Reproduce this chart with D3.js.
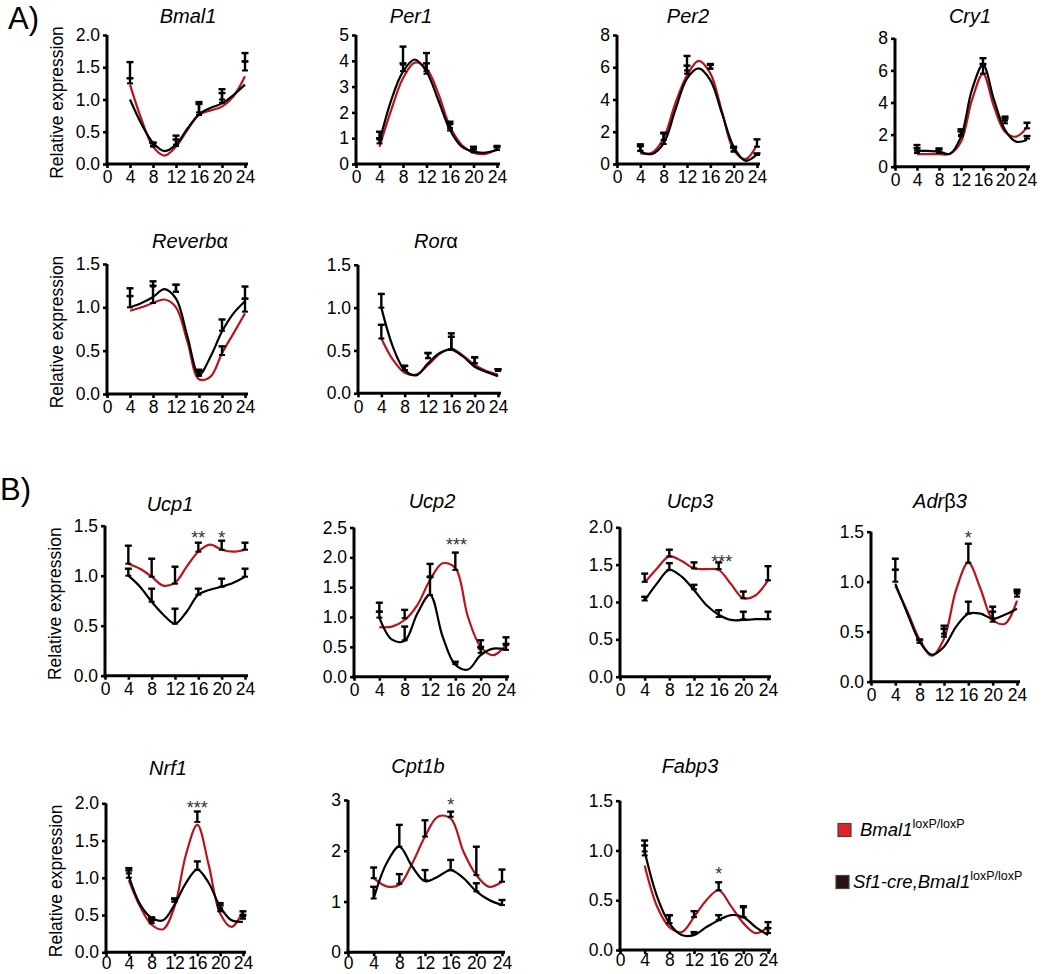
<!DOCTYPE html>
<html><head><meta charset="utf-8">
<script src="https://cdn.jsdelivr.net/npm/d3@7"></script>
<style>
body{margin:0;background:#fff}
svg{display:block}
text{font-family:"Liberation Sans",Arial,Helvetica,sans-serif;fill:#000}
</style>
</head><body>
<svg id="chart" width="1050" height="974"></svg>
<script>
// ---------------- DATA ----------------
const genes = ["Bmal1","Per1","Per2","Cry1","Reverbα","Rorα","Ucp1","Ucp2","Ucp3","Adrβ3","Nrf1","Cpt1b","Fabp3"];
const sampleHours = [4, 8, 12, 16, 20, 24];
const fitHours = [4, 6, 8, 10, 12, 14, 16, 18, 20, 22, 24];
const xTicks = [0, 4, 8, 12, 16, 20, 24];
const yMax  = [2, 5, 8, 8, 1.5, 1.5, 1.5, 2.5, 2, 1.5, 2, 3, 1.5];
const yStep = [0.5, 1, 2, 2, 0.5, 0.5, 0.5, 0.5, 0.5, 0.5, 0.5, 1, 0.5];

// fitted curves (Bmal1 loxP/loxP = red)
const fitFlox = [
  [1.23, 0.69, 0.27, 0.13, 0.27, 0.53, 0.76, 0.83, 0.89, 1.05, 1.36],
  [0.67, 2.10, 3.32, 3.93, 3.70, 2.74, 1.45, 0.74, 0.44, 0.39, 0.57],
  [0.66, 0.70, 1.60, 3.76, 5.50, 6.40, 5.62, 3.24, 0.87, 0.30, 1.18],
  [0.78, 0.78, 0.78, 0.80, 1.56, 4.16, 5.78, 3.74, 2.18, 1.87, 2.45],
  [0.96, 1.00, 1.05, 1.09, 1.00, 0.60, 0.17, 0.20, 0.47, 0.70, 0.93],
  [0.64, 0.39, 0.24, 0.22, 0.33, 0.46, 0.52, 0.44, 0.33, 0.26, 0.22],
  [1.12, 1.07, 0.99, 0.90, 0.93, 1.09, 1.24, 1.31, 1.26, 1.24, 1.26],
  [0.83, 0.84, 0.95, 1.20, 1.62, 1.90, 1.82, 1.00, 0.50, 0.36, 0.53],
  [1.26, 1.45, 1.61, 1.55, 1.45, 1.44, 1.43, 1.24, 1.05, 1.09, 1.29],
  [0.96, 0.70, 0.42, 0.26, 0.43, 0.92, 1.19, 0.93, 0.62, 0.58, 0.81],
  [0.97, 0.61, 0.37, 0.31, 0.61, 1.31, 1.71, 1.17, 0.52, 0.34, 0.55],
  [1.46, 1.30, 1.33, 1.75, 2.28, 2.67, 2.64, 1.98, 1.52, 1.29, 1.39],
  [0.85, 0.44, 0.23, 0.18, 0.33, 0.50, 0.60, 0.44, 0.27, 0.17, 0.23]
];
// fitted curves (Sf1-cre,Bmal1 loxP/loxP = black)
const fitCre = [
  [1.00, 0.62, 0.33, 0.20, 0.30, 0.55, 0.77, 0.87, 0.94, 1.07, 1.23],
  [0.87, 2.48, 3.58, 4.05, 3.58, 2.48, 1.32, 0.67, 0.48, 0.44, 0.54],
  [0.76, 0.62, 1.28, 3.35, 5.30, 5.93, 5.20, 3.14, 1.07, 0.20, 0.60],
  [1.00, 0.98, 0.94, 0.80, 1.87, 4.80, 6.34, 4.16, 2.29, 1.56, 1.66],
  [1.00, 1.05, 1.12, 1.21, 1.10, 0.66, 0.22, 0.43, 0.72, 0.93, 1.07],
  [1.00, 0.54, 0.27, 0.21, 0.35, 0.47, 0.51, 0.43, 0.31, 0.25, 0.20],
  [1.00, 0.89, 0.74, 0.61, 0.52, 0.64, 0.81, 0.86, 0.89, 0.93, 0.99],
  [0.99, 0.62, 0.60, 1.06, 1.37, 0.67, 0.20, 0.12, 0.36, 0.47, 0.45],
  [1.02, 1.25, 1.43, 1.34, 1.16, 0.96, 0.83, 0.76, 0.76, 0.77, 0.77],
  [0.98, 0.68, 0.40, 0.27, 0.35, 0.55, 0.68, 0.68, 0.63, 0.67, 0.73],
  [1.02, 0.64, 0.46, 0.43, 0.64, 0.93, 1.11, 0.93, 0.61, 0.43, 0.41],
  [1.06, 1.75, 2.08, 1.69, 1.40, 1.49, 1.62, 1.46, 1.20, 1.03, 0.93],
  [0.99, 0.54, 0.27, 0.15, 0.15, 0.23, 0.30, 0.35, 0.33, 0.23, 0.15]
];
// group means and SEM at sampling times
const meanFlox = [
  [1.25, 0.27, 0.28, 0.80, 0.95, 1.45],
  [0.80, 3.60, 3.60, 1.40, 0.45, 0.55],
  [0.80, 1.50, 5.80, 5.90, 0.80, 1.07],
  [0.85, 0.87, 1.90, 5.80, 2.70, 2.39],
  [1.00, 1.05, 1.18, 0.21, 0.45, 0.95],
  [0.64, 0.27, 0.41, 0.51, 0.35, 0.26],
  [1.12, 0.99, 0.92, 1.24, 1.26, 1.26],
  [1.09, 0.98, 1.68, 1.79, 0.47, 0.53],
  [1.27, 1.61, 1.45, 1.44, 1.05, 1.29],
  [1.00, 0.39, 0.45, 1.19, 0.60, 0.85],
  [1.00, 0.39, 0.68, 1.75, 0.55, 0.48],
  [1.46, 1.35, 2.28, 2.67, 1.52, 1.39],
  [0.95, 0.27, 0.33, 0.60, 0.33, 0.17]
];
const semFlox = [
  [0.08, 0.06, 0.10, 0.13, 0.15, 0.14],
  [0.20, 0.30, 0.30, 0.15, 0.12, 0.10],
  [0.30, 0.40, 0.90, 0.25, 0.20, 0.46],
  [0.30, 0.20, 0.30, 0.60, 0.30, 0.35],
  [0.13, 0.20, 0.08, 0.05, 0.10, 0.15],
  [0.16, 0.05, 0.06, 0.15, 0.07, 0.02],
  [0.18, 0.18, 0.17, 0.09, 0.09, 0.07],
  [0.15, 0.14, 0.21, 0.29, 0.14, 0.13],
  [0.11, 0.09, 0.08, 0.09, 0.09, 0.19],
  [0.12, 0.03, 0.08, 0.19, 0.10, 0.05],
  [0.10, 0.06, 0.04, 0.14, 0.08, 0.07],
  [0.21, 0.19, 0.32, 0.10, 0.56, 0.24],
  [0.10, 0.08, 0.06, 0.08, 0.11, 0.11]
];
const meanCre = [
  [1.33, 0.28, 0.30, 0.76, 1.00, 1.59],
  [0.95, 3.85, 3.50, 1.30, 0.48, 0.54],
  [0.83, 1.24, 5.60, 5.93, 0.76, 0.56],
  [1.00, 0.87, 1.98, 6.34, 2.87, 1.75],
  [1.13, 1.24, 1.18, 0.21, 0.73, 1.10],
  [1.00, 0.27, 0.41, 0.51, 0.35, 0.26],
  [1.00, 0.74, 0.52, 0.81, 0.89, 0.99],
  [0.99, 0.61, 1.37, 0.21, 0.40, 0.45],
  [1.02, 1.43, 1.17, 0.80, 0.77, 0.77],
  [1.12, 0.39, 0.48, 0.68, 0.63, 0.88],
  [1.06, 0.42, 0.68, 1.11, 0.59, 0.45],
  [1.06, 2.08, 1.42, 1.62, 1.20, 0.93],
  [0.99, 0.27, 0.16, 0.30, 0.33, 0.17]
];
const semCre = [
  [0.25, 0.05, 0.14, 0.20, 0.16, 0.13],
  [0.30, 0.70, 0.80, 0.34, 0.19, 0.16],
  [0.39, 0.70, 0.50, 0.27, 0.31, 0.10],
  [0.35, 0.27, 0.35, 0.42, 0.25, 0.16],
  [0.09, 0.06, 0.08, 0.07, 0.13, 0.14],
  [0.16, 0.05, 0.06, 0.19, 0.07, 0.02],
  [0.07, 0.13, 0.15, 0.06, 0.08, 0.08],
  [0.10, 0.23, 0.30, 0.04, 0.10, 0.10],
  [0.05, 0.09, 0.06, 0.09, 0.10, 0.10],
  [0.11, 0.03, 0.08, 0.12, 0.12, 0.04],
  [0.07, 0.05, 0.04, 0.11, 0.07, 0.05],
  [0.23, 0.43, 0.20, 0.20, 0.16, 0.10],
  [0.11, 0.08, 0.02, 0.05, 0.10, 0.05]
];
// significance marks
const starGene = [6, 6, 7, 8, 9, 10, 11, 12];
const starHour = [16, 20, 16.2, 16.5, 16, 16, 16, 16];
const starY    = [1.41, 1.41, 2.25, 1.57, 1.47, 1.98, 2.97, 0.79];
const starText = ["**", "*", "***", "***", "*", "***", "*", "*"];
const sectionLabels = ["A)", "B)"];
const yAxisLabel = "Relative expression";
const legendNames = ["Bmal1", "Sf1-cre,Bmal1"];
const legendSup = "loxP/loxP";

// ---------------- LAYOUT (pixels) ----------------
// [x at 0h, x at 24h, y at 0, y at yMax, title centre x, title baseline y, has y label, x-label padding]
const layout = [
  [107, 245, 164, 35, 188, 23, 1, 3],
  [356, 497, 164, 35, 411, 23, 0, 3],
  [617, 757, 164, 35, 688, 23, 0, 3],
  [895, 1027, 166.7, 38.3, 970, 23, 0, 3],
  [107, 245, 394, 264, 190, 248, 1, 3],
  [358, 498, 393.3, 264.8, 436, 248, 0, 3],
  [105, 245, 675.7, 525.7, 170, 511, 1, 3],
  [354, 506, 676.7, 527.5, 432, 508, 0, 3],
  [620, 768, 676.7, 527.3, 690, 508, 0, 3],
  [871, 1017, 681.7, 531.7, 940, 508, 0, 3],
  [106, 243, 952.3, 803.3, 168, 775, 1, 0],
  [348, 502, 952.3, 800, 418, 773, 0, 0],
  [620, 768, 950, 800.7, 690, 773, 0, 0]
];
const RED = "#b8141c", BLACK = "#000";

const svg = d3.select("#chart");

svg.append("text").attr("x", 8).attr("y", 29).attr("font-size", 31).text(sectionLabels[0]);
svg.append("text").attr("x", 0).attr("y", 500).attr("font-size", 31).text(sectionLabels[1]);

genes.forEach((g, i) => {
  const [x0, x1, y0, y1, tx, ty, hasLab, pad] = layout[i];
  const x = d3.scaleLinear().domain([0, 24]).range([x0, x1]);
  const y = d3.scaleLinear().domain([0, yMax[i]]).range([y0, y1]);
  const gp = svg.append("g");

  // title (Latin italic, Greek upright)
  const t = gp.append("text").attr("x", tx).attr("y", ty).attr("text-anchor", "middle")
    .attr("font-size", 20);
  [...g].forEach(ch => {
    const greek = /[\u0370-\u03ff]/.test(ch);
    t.append("tspan").attr("font-style", greek ? "normal" : "italic").text(ch);
  });

  // axes
  const yt = d3.range(0, yMax[i] + 1e-9, yStep[i]);
  const fmt = yStep[i] < 1 ? d3.format(".1f") : d3.format("d");
  const ya = gp.append("g").attr("transform", `translate(${x0},0)`)
    .call(d3.axisLeft(y).tickValues(yt).tickFormat(fmt).tickSizeInner(4).tickSizeOuter(0).tickPadding(3));
  const xa = gp.append("g").attr("transform", `translate(0,${y0})`)
    .call(d3.axisBottom(x).tickValues(xTicks).tickFormat(d3.format("d")).tickSizeInner(4).tickSizeOuter(0).tickPadding(pad));
  [ya, xa].forEach(a => {
    a.select(".domain").attr("stroke", "#000").attr("stroke-width", 3);
    a.selectAll(".tick line").attr("stroke", "#000").attr("stroke-width", 2.6);
    a.selectAll(".tick text").attr("font-size", 17.5).attr("fill", "#000")
      .attr("font-family", '"Liberation Sans",Arial,sans-serif');
  });
  xa.select(".domain").attr("d", `M${x0 - 1.5},0H${x1 + 3}`);
  ya.select(".domain").attr("d", `M0,${y0 + 1.5}V${y1}`);

  if (hasLab) {
    const cy = (y0 + y1) / 2 + 3;
    gp.append("text").attr("transform", `translate(${x0 - 44},${cy}) rotate(-90)`)
      .attr("text-anchor", "middle").attr("font-size", 17.5).text(yAxisLabel);
  }

  // curves
  const line = d3.line().x((d, k) => x(fitHours[k])).y(d => y(d)).curve(d3.curveCatmullRom.alpha(0.5));
  gp.append("path").attr("d", line(fitFlox[i])).attr("fill", "none").attr("stroke", RED).attr("stroke-width", 2.2);
  gp.append("path").attr("d", line(fitCre[i])).attr("fill", "none").attr("stroke", BLACK).attr("stroke-width", 2.2);

  // error bars (upper SEM) with mean marker
  [[meanFlox[i], semFlox[i]], [meanCre[i], semCre[i]]].forEach(([m, s]) => {
    sampleHours.forEach((h, k) => {
      const cx = x(h), ym = y(m[k]), ytop = y(m[k] + s[k]);
      gp.append("line").attr("x1", cx).attr("x2", cx).attr("y1", ym).attr("y2", ytop)
        .attr("stroke", "#000").attr("stroke-width", 2.4);
      gp.append("line").attr("x1", cx - 3.5).attr("x2", cx + 3.5).attr("y1", ytop).attr("y2", ytop)
        .attr("stroke", "#000").attr("stroke-width", 2.4);
      gp.append("line").attr("x1", cx - 3).attr("x2", cx + 3).attr("y1", ym).attr("y2", ym)
        .attr("stroke", "#000").attr("stroke-width", 2);
    });
  });
});

// significance stars
starGene.forEach((gi, k) => {
  const [x0, x1, y0, y1] = layout[gi];
  const x = d3.scaleLinear().domain([0, 24]).range([x0, x1]);
  const y = d3.scaleLinear().domain([0, yMax[gi]]).range([y0, y1]);
  svg.append("text").attr("x", x(starHour[k])).attr("y", y(starY[k]) + 9)
    .attr("text-anchor", "middle").attr("font-size", 18).style("fill", "#333")
    .text(starText[k]);
});

// legend
const lg = svg.append("g");
const legColors = ["#e0222b", "#2a1010"];
const legY = [830, 882];
const legX = [838, 836];
legendNames.forEach((n, k) => {
  lg.append("rect").attr("x", legX[k]).attr("y", legY[k] - 6.5).attr("width", 13).attr("height", 13)
    .attr("fill", legColors[k]).attr("stroke", "#444").attr("stroke-width", 1.2);
  const tt = lg.append("text").attr("x", legX[k] + (k === 0 ? 22 : 17)).attr("y", legY[k] + 6)
    .attr("font-size", 18.5);
  tt.append("tspan").attr("font-style", "italic").text(n);
  tt.append("tspan").attr("font-size", 12.5).attr("dy", -8).text(legendSup);
});
</script>
</body></html>
